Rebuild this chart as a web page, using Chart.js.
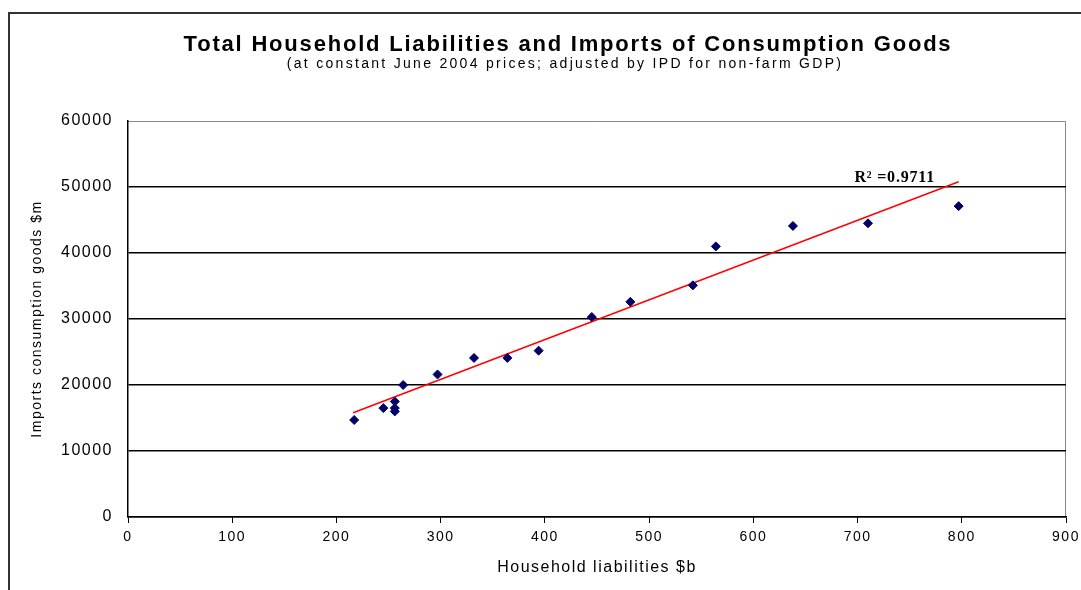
<!DOCTYPE html>
<html lang="en">
<head>
  <meta charset="UTF-8">
  <title>Household Liabilities vs Imports</title>
  <script src="https://cdn.jsdelivr.net/npm/chart.js@4.4.1/dist/chart.umd.min.js"></script>
  <style>
    html, body { margin: 0; padding: 0; background: #fff; }
    #wrap { position: relative; width: 1081px; height: 590px; }
  </style>
</head>
<body>
<div id="wrap">
  <canvas id="scatter" width="1081" height="590"></canvas>
</div>

<script>
  // values
  const liabilities = [217, 245, 256, 256, 256, 264, 297, 332, 364, 394, 445, 482, 542, 564, 638, 710, 797];
  const imports = [14700, 16500, 17500, 16500, 16000, 20000, 21600, 24100, 24100, 25200, 30300, 32600, 35100, 41000, 44100, 44500, 47100];

  // linear trend line end points
  const trendX = [216, 797];
  const trendY = [15800, 50800];
  const rSquared = '0.9711';

  const chartTitle = 'Total Household Liabilities and Imports of Consumption Goods';
  const chartSubtitle = '(at constant June 2004 prices; adjusted by IPD for non-farm GDP)';

  const xMax = 900, xStep = 100;
  const yMax = 60000, yStep = 10000;

  const points = liabilities.map((x, i) => ({ x, y: imports[i] }));
  const trend = trendX.map((x, i) => ({ x, y: trendY[i] }));

  const sans = '"Liberation Sans", Arial, sans-serif';

  // outer frame, grey plot border, titles (letter spaced) and R² text
  const extras = {
    id: 'extras',
    beforeDraw(chart) {
      const ctx = chart.ctx;
      ctx.letterSpacing = '1.5px'; // the old excel picture is stretched wide
      ctx.save();
      ctx.strokeStyle = '#333';
      ctx.lineWidth = 2;
      ctx.beginPath();
      ctx.moveTo(9, 590);
      ctx.lineTo(9, 13);
      ctx.lineTo(1081, 13);
      ctx.stroke();
      const a = chart.chartArea;
      ctx.strokeStyle = '#888';
      ctx.lineWidth = 1;
      ctx.beginPath();
      ctx.moveTo(a.left, a.top + 0.5);
      ctx.lineTo(a.right - 0.5, a.top + 0.5);
      ctx.lineTo(a.right - 0.5, a.bottom);
      ctx.stroke();

      ctx.fillStyle = '#000';
      ctx.textAlign = 'center';
      ctx.textBaseline = 'middle';
      ctx.font = 'bold 22px ' + sans;
      ctx.letterSpacing = '1.8px';
      ctx.fillText(chartTitle, 568, 45);
      ctx.font = '14px ' + sans;
      ctx.letterSpacing = '2.3px';
      ctx.fillText(chartSubtitle, 565, 64);
      ctx.restore();
    },
    afterDatasetsDraw(chart) {
      const ctx = chart.ctx;
      const xs = chart.scales.x, ys = chart.scales.y;
      ctx.save();
      ctx.fillStyle = '#000';
      ctx.letterSpacing = '0.8px';
      ctx.font = 'bold 16px "Liberation Serif", serif';
      ctx.textAlign = 'left';
      ctx.textBaseline = 'alphabetic';
      const px = xs.getPixelForValue(697), py = ys.getPixelForValue(50000) - 5;
      ctx.fillText('R² =' + rSquared, px, py);
      ctx.restore();
    }
  };

  new Chart(document.getElementById('scatter'), {
    type: 'scatter',
    data: {
      datasets: [{
        data: points,
        pointStyle: 'rectRot',
        pointRadius: 4.5,
        backgroundColor: '#000066',
        borderColor: '#000066',
        borderWidth: 1
      }, {
        type: 'line',
        data: trend,
        borderColor: '#ff0000',
        borderWidth: 1.5,
        pointRadius: 0,
        fill: false
      }]
    },
    options: {
      responsive: false,
      animation: false,
      layout: { padding: { left: 0, right: 15, top: 121, bottom: 0 } },
      plugins: {
        legend: { display: false },
        tooltip: { enabled: false }
      },
      scales: {
        x: {
          type: 'linear',
          min: 0, max: xMax,
          afterFit: s => { s.height = 73; s.paddingRight = 0; },
          ticks: {
            stepSize: xStep,
            color: '#000',
            padding: 6,
            font: { family: sans, size: 14 }
          },
          grid: { drawOnChartArea: false, drawTicks: true, tickLength: 6, tickColor: '#000' },
          border: { color: '#000', width: 1.5 },
          title: {
            display: true,
            text: 'Household liabilities $b',
            color: '#000',
            font: { family: sans, size: 16 },
            padding: { top: 0, bottom: 13 }
          }
        },
        y: {
          min: 0, max: yMax,
          afterFit: s => { s.width = 128; },
          ticks: {
            stepSize: yStep,
            color: '#000',
            padding: 15,
            callback: v => String(v),
            font: { family: sans, size: 16 }
          },
          grid: {
            drawTicks: false,
            color: c => (c.tick && c.tick.value === yMax) ? 'rgba(0,0,0,0)' : '#000',
            lineWidth: 1.5
          },
          border: { color: '#000', width: 1.5 },
          title: {
            display: true,
            text: 'Imports consumption goods $m',
            color: '#000',
            font: { family: sans, size: 14 },
            padding: { top: 29, bottom: 0 }
          }
        }
      }
    },
    plugins: [extras]
  });
</script>
</body>
</html>
